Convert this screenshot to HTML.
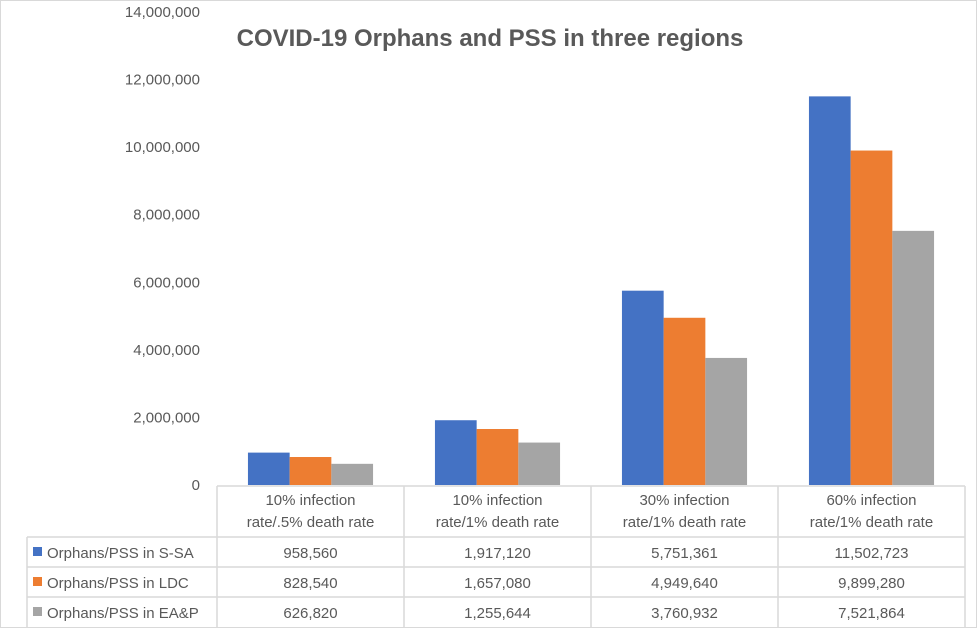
<!DOCTYPE html>
<html><head><meta charset="utf-8"><style>
body{margin:0;background:#fff;font-family:"Liberation Sans",sans-serif}
svg text{font-family:"Liberation Sans",sans-serif;fill:#595959}
</style></head><body>
<svg width="977" height="628" id="c">
<rect x="0.5" y="0.5" width="976" height="627" fill="#fff" stroke="#d9d9d9"/>
<text x="490" y="46" text-anchor="middle" font-size="24" font-weight="bold">COVID-19 Orphans and PSS in three regions</text>
</svg>
<script>
const categories1=["10% infection","10% infection","30% infection","60% infection"];
const categories2=["rate/.5% death rate","rate/1% death rate","rate/1% death rate","rate/1% death rate"];
const seriesNames=["Orphans/PSS in S-SA","Orphans/PSS in LDC","Orphans/PSS in EA&P"];
const ssa=[958560,1917120,5751361,11502723];
const ldc=[828540,1657080,4949640,9899280];
const eap=[626820,1255644,3760932,7521864];
const yTicks=[0,2000000,4000000,6000000,8000000,10000000,12000000,14000000];
const colors=["#4472c4","#ed7d31","#a5a5a5"];
const svg=document.getElementById('c');
const NS='http://www.w3.org/2000/svg';
const x0=217,cw=187,y0=485,yMax=14000000,yTop=12;
const y=v=>y0-(v/yMax)*(y0-yTop);
function mk(t,a){const e=document.createElementNS(NS,t);for(const k in a)e.setAttribute(k,a[k]);svg.appendChild(e);return e;}
yTicks.forEach(v=>{const t=mk('text',{x:200,y:y(v)+5,'text-anchor':'end','font-size':15});t.textContent=v.toLocaleString('en-US');

});
const series=[ssa,ldc,eap];const bw=41.7;
series.forEach((s,si)=>s.forEach((v,i)=>{const cx=x0+cw*i+cw/2;const r=mk('rect',{x:cx-1.5*bw+si*bw,y:y(v),width:bw,height:y0-y(v),fill:colors[si]});

}));
// table
const st={stroke:'#d9d9d9','stroke-width':1.5,fill:'none'};
const rows=[486,537,567,597,628];
const hl=(x1,x2,yy)=>mk('line',Object.assign({x1,x2,y1:yy,y2:yy},st));
const vl=(xx,y1,y2)=>mk('line',Object.assign({x1:xx,x2:xx,y1,y2},st));
hl(x0,x0+4*cw,486);[537,567,597].forEach(r=>hl(27,x0+4*cw,r));
for(let i=0;i<=4;i++)vl(x0+cw*i,486,628);vl(27,537,628);
categories1.forEach((c,i)=>{const cx=x0+cw*i+cw/2;
const a=mk('text',{x:cx,y:505,'text-anchor':'middle','font-size':15});a.textContent=c;


const b=mk('text',{x:cx,y:527,'text-anchor':'middle','font-size':15});b.textContent=categories2[i];

});
series.forEach((s,si)=>{const ry=rows[si+1]+21;
const k=mk('rect',{x:33,y:ry-11,width:9,height:9,fill:colors[si]});


const n=mk('text',{x:47,y:ry,'font-size':15});n.textContent=seriesNames[si];


s.forEach((v,i)=>{const t=mk('text',{x:x0+cw*i+cw/2,y:ry,'text-anchor':'middle','font-size':15});t.textContent=v.toLocaleString('en-US');

});});
</script>
</body></html>
